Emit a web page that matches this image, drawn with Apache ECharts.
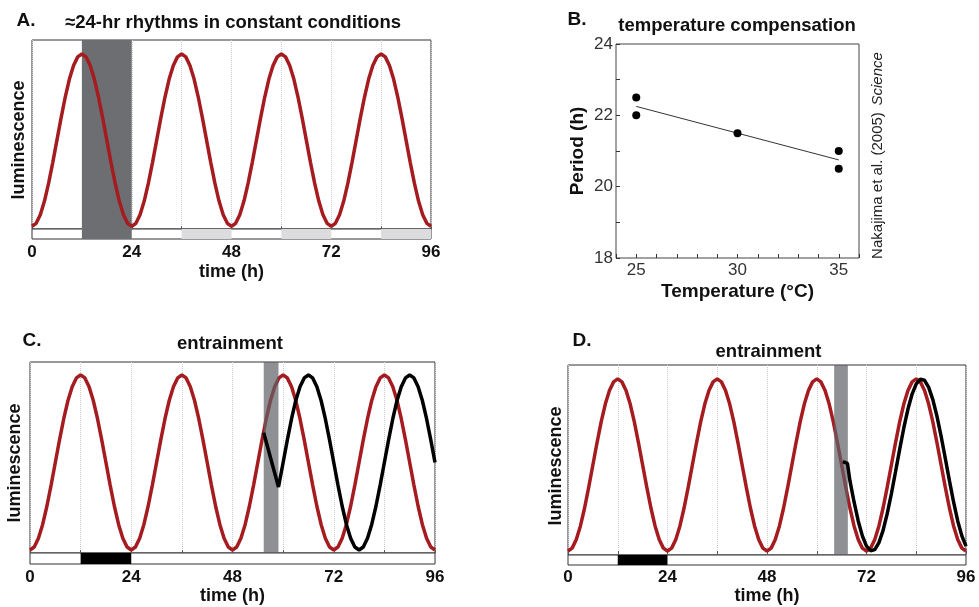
<!DOCTYPE html>
<html><head><meta charset="utf-8">
<script src="https://cdn.jsdelivr.net/npm/echarts@6/dist/echarts.min.js"></script>
<style>html,body{margin:0;padding:0;background:#fff}#c{width:979px;height:607px}</style>
</head><body><div id="c"></div>
<script>
// ---------- data ----------
const timeTickLabels = [0, 24, 48, 72, 96];
// hourly luminescence of the free-running (red) rhythm, t = 0..96 h
const redLum = [
  0,1.7,6.7,14.6,25,37.1,50,62.9,75,85.4,93.3,98.3,100,98.3,93.3,85.4,75,62.9,50,37.1,25,14.6,6.7,1.7,
  0,1.7,6.7,14.6,25,37.1,50,62.9,75,85.4,93.3,98.3,100,98.3,93.3,85.4,75,62.9,50,37.1,25,14.6,6.7,1.7,
  0,1.7,6.7,14.6,25,37.1,50,62.9,75,85.4,93.3,98.3,100,98.3,93.3,85.4,75,62.9,50,37.1,25,14.6,6.7,1.7,
  0,1.7,6.7,14.6,25,37.1,50,62.9,75,85.4,93.3,98.3,100,98.3,93.3,85.4,75,62.9,50,37.1,25,14.6,6.7,1.7,
  0
];
// panel C: phase-shifted rhythm after the pulse
const blackC_t = [55.4,58.9,60,61,62,63,64,65,66,67,68,69,70,71,72,73,74,75,76,77,78,79,80,81,82,83,84,85,86,87,88,89,90,91,92,93,94,95,96];
const blackC_v = [67,36,50,62.9,75,85.4,93.3,98.3,100,98.3,93.3,85.4,75,62.9,50,37.1,25,14.6,6.7,1.7,0,1.7,6.7,14.6,25,37.1,50,62.9,75,85.4,93.3,98.3,100,98.3,93.3,85.4,75,62.9,50];
// panel D: small delay after the pulse
const blackD_t = [66.3,67.4,68,69,70,71,72,73,74,75,76,77,78,79,80,81,82,83,84,85,86,87,88,89,90,91,92,93,94,95,96];
const blackD_v = [52,51,40.9,28.5,17.5,8.8,2.9,0.2,0.8,4.9,12,21.7,33.3,46.1,59.1,71.5,82.5,91.2,97.1,99.8,99.2,95.1,88,78.3,66.7,53.9,40.9,28.5,17.5,8.8,2.9];
const darkBandA = [12, 24];
const lightStripA = [[36, 48], [60, 72], [84, 96]];
const darkStripCD = [12, 24];
const pulseC = [55.4, 58.9];
const pulseD = [64.2, 67.5];
// panel B
const tempC = [25, 25, 30, 35, 35];
const periodH = [22.5, 22.0, 21.5, 21.0, 20.5];
const fitTemp = [25, 35];
const fitPeriod = [22.25, 20.75];
const tempTickLabels = [25, 30, 35];
const periodTickLabels = [18, 20, 22, 24];

// ---------- styling ----------
const FF = "'Liberation Sans', Arial, Helvetica, sans-serif";
const RED = '#a51c20';
const INK = '#111';

function mainX(g) {
  return { type: 'value', gridIndex: g, min: 0, max: 96, interval: 12, position: 'top',
    axisLine: { show: false }, axisLabel: { show: false },
    axisTick: { show: true, inside: true, length: 3, lineStyle: { color: '#555' } },
    splitLine: { show: true, lineStyle: { color: '#cdcdcd', type: 'dotted', width: 1 } } };
}
function stripX(g, margin, gap) {
  return { type: 'value', gridIndex: g, min: 0, max: 96, interval: 24, position: 'bottom',
    axisLine: { show: false }, axisTick: { show: false }, splitLine: { show: false },
    axisLabel: { margin: margin, fontSize: 17, fontWeight: 'bold', color: INK, fontFamily: FF,
      formatter: v => timeTickLabels.includes(v) ? String(v) : '' },
    name: 'time (h)', nameLocation: 'middle', nameGap: gap,
    nameTextStyle: { fontSize: 18, fontWeight: 'bold', color: INK, fontFamily: FF } };
}
function hiddenY(g, min, max) {
  return { type: 'value', gridIndex: g, min: min, max: max, show: false, splitLine: { show: false } };
}
function redSeries(xi, yi, extra) {
  return Object.assign({ type: 'line', xAxisIndex: xi, yAxisIndex: yi, z: 2,
    data: redLum.map((v, h) => [h, v]), symbol: 'none', smooth: false,
    lineStyle: { color: RED, width: 3.5 }, silent: true }, extra || {});
}
function blackSeries(xi, yi, ts, vs) {
  return { type: 'line', xAxisIndex: xi, yAxisIndex: yi, z: 4,
    data: ts.map((t, i) => [t, vs[i]]), symbol: 'none',
    lineStyle: { color: '#000', width: 3.5 }, silent: true };
}
function pulseArea(p) {
  return { silent: true, z: 3, itemStyle: { color: 'rgba(96,97,102,0.7)' },
    data: [[{ xAxis: p[0] }, { xAxis: p[1] }]] };
}
function stripSeries(xi, yi, segs, color, extraSegs, extraColor) {
  const d = segs.map(s => [{ xAxis: s[0], itemStyle: { color: color } }, { xAxis: s[1] }]);
  if (extraSegs) extraSegs.forEach(s => d.push([{ xAxis: s[0], itemStyle: { color: extraColor } }, { xAxis: s[1] }]));
  return { type: 'line', xAxisIndex: xi, yAxisIndex: yi, data: [], symbol: 'none', silent: true,
    markArea: { silent: true, z: 1, data: d } };
}
function txt(x, y, text, font, rot) {
  return { type: 'text', x: x, y: y, rotation: rot || 0, silent: true,
    style: { text: text, font: font, fill: INK, align: 'center', verticalAlign: 'middle' } };
}
const BOLD18 = "bold 18.5px " + FF;
const BOLD19 = "bold 19px " + FF;
const BOLDL = "bold 18px " + FF;

const option = {
  backgroundColor: '#fff',
  animation: false,
  grid: [
    { left: 32, top: 40, width: 399, height: 189, show: true, borderColor: '#333', borderWidth: 1, backgroundColor: 'transparent', outerBoundsMode: 'none' },
    { left: 32, top: 229, width: 399, height: 10, show: true, borderColor: '#333', borderWidth: 1, backgroundColor: '#fff', outerBoundsMode: 'none' },
    { left: 616, top: 44, width: 243, height: 214, show: true, borderColor: '#444', borderWidth: 1, backgroundColor: 'transparent', outerBoundsMode: 'none' },
    { left: 30, top: 362, width: 405, height: 191, show: true, borderColor: '#333', borderWidth: 1, backgroundColor: 'transparent', outerBoundsMode: 'none' },
    { left: 30, top: 553, width: 405, height: 11, show: true, borderColor: '#333', borderWidth: 1, backgroundColor: '#fff', outerBoundsMode: 'none' },
    { left: 568, top: 365, width: 398, height: 190, show: true, borderColor: '#333', borderWidth: 1, backgroundColor: 'transparent', outerBoundsMode: 'none' },
    { left: 568, top: 555, width: 398, height: 10, show: true, borderColor: '#333', borderWidth: 1, backgroundColor: '#fff', outerBoundsMode: 'none' }
  ],
  xAxis: [
    mainX(0),
    stripX(1, 5, 24),
    { type: 'value', gridIndex: 2, min: 24, max: 36, interval: 1,
      axisLine: { show: false }, splitLine: { show: false },
      axisTick: { show: true, inside: true, length: 4, lineStyle: { color: '#333' } },
      axisLabel: { margin: 4, fontSize: 17, color: '#333', fontFamily: FF,
        formatter: v => tempTickLabels.includes(v) ? String(v) : '' },
      name: 'Temperature (°C)', nameLocation: 'middle', nameGap: 24,
      nameTextStyle: { fontSize: 19, fontWeight: 'bold', color: INK, fontFamily: FF } },
    mainX(3),
    stripX(4, 5, 22),
    mainX(5),
    stripX(6, 4, 19)
  ],
  yAxis: [
    hiddenY(0, -1.6, 108.1),
    hiddenY(1, 0, 1),
    { type: 'value', gridIndex: 2, min: 18, max: 24, interval: 1,
      axisLine: { show: false }, splitLine: { show: false },
      axisTick: { show: true, inside: true, length: 4, lineStyle: { color: '#333' } },
      axisLabel: { margin: 3, fontSize: 17, color: '#333', fontFamily: FF,
        formatter: v => periodTickLabels.includes(v) ? String(v) : '' },
      name: 'Period (h)', nameLocation: 'middle', nameGap: 29,
      nameTextStyle: { fontSize: 19, fontWeight: 'bold', color: INK, fontFamily: FF } },
    hiddenY(3, -1.7, 107.4),
    hiddenY(4, 0, 1),
    hiddenY(5, -2.3, 108.1),
    hiddenY(6, 0, 1)
  ],
  series: [
    redSeries(0, 0, { markArea: { silent: true, z: 1, itemStyle: { color: '#6d6e71' },
      data: [[{ xAxis: darkBandA[0] }, { xAxis: darkBandA[1] }]] } }),
    stripSeries(1, 1, [darkBandA], '#6d6e71', lightStripA, '#dcdcde'),
    { type: 'scatter', xAxisIndex: 2, yAxisIndex: 2, symbolSize: 8, z: 4,
      itemStyle: { color: '#000', opacity: 1 }, data: tempC.map((t, i) => [t, periodH[i]]), silent: true },
    { type: 'line', xAxisIndex: 2, yAxisIndex: 2, symbol: 'none', z: 3,
      lineStyle: { color: '#333', width: 1 }, data: fitTemp.map((t, i) => [t, fitPeriod[i]]), silent: true },
    redSeries(3, 3, { markArea: pulseArea(pulseC) }),
    blackSeries(3, 3, blackC_t, blackC_v),
    stripSeries(4, 4, [darkStripCD], '#000'),
    redSeries(5, 5, { markArea: pulseArea(pulseD) }),
    blackSeries(5, 5, blackD_t, blackD_v),
    stripSeries(6, 6, [darkStripCD], '#000')
  ],
  graphic: [
    txt(26, 21, 'A.', BOLD19),
    txt(233, 22.5, '≈24-hr rhythms in constant conditions', BOLD18),
    txt(19, 140, 'luminescence', BOLDL, Math.PI / 2),
    txt(577, 19.5, 'B.', BOLD19),
    txt(737, 26, 'temperature compensation', BOLD18),
    { type: 'text', x: 878, y: 155.5, rotation: Math.PI / 2, silent: true,
      style: { text: '{a|Nakajima et al. (2005)}  {b|Science}', fill: '#222', align: 'center', verticalAlign: 'middle',
        rich: { a: { fontSize: 15, fontFamily: FF, fill: '#222' },
                b: { fontSize: 15, fontFamily: FF, fontStyle: 'italic', fill: '#222' } } } },
    txt(32, 341, 'C.', BOLD19),
    txt(230, 343.5, 'entrainment', BOLD18),
    txt(15, 463, 'luminescence', BOLDL, Math.PI / 2),
    txt(582, 341, 'D.', BOLD19),
    txt(768.5, 351.5, 'entrainment', BOLD18),
    txt(556.5, 466, 'luminescence', BOLDL, Math.PI / 2)
  ]
};
const chart = echarts.init(document.getElementById('c'), null, { renderer: 'canvas' });
chart.setOption(option);
</script>
</body></html>
